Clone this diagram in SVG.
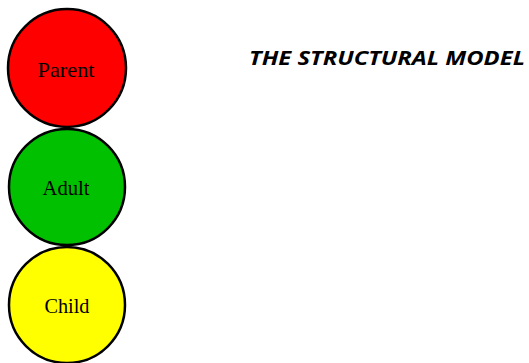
<svg xmlns="http://www.w3.org/2000/svg" width="529" height="363" viewBox="0 0 529 363">
<style>
.c{stroke:#000;stroke-width:2.5}
.t{font-family:"Liberation Serif","Times New Roman",serif;font-size:21px;fill:#000;text-anchor:middle}
.h{font-family:"Open Sans","Liberation Sans",sans-serif;font-size:20px;font-weight:bold;font-style:italic;fill:#000}
</style>
<rect width="529" height="363" fill="#fff"/>
<g id="parent"><circle class="c" cx="67" cy="68" r="59" fill="#ff0000"/><text class="t" x="66" y="77" textLength="57" lengthAdjust="spacingAndGlyphs">Parent</text></g>
<g id="adult"><circle class="c" cx="67" cy="187" r="58" fill="#00c000"/><text class="t" x="66" y="195" textLength="47" lengthAdjust="spacingAndGlyphs">Adult</text></g>
<g id="child"><circle class="c" cx="67" cy="305" r="58" fill="#ffff00"/><text class="t" x="67" y="313" textLength="45" lengthAdjust="spacingAndGlyphs">Child</text></g>
<g id="connectors"/>
<g id="title"><text class="h" x="249" y="65" textLength="276" lengthAdjust="spacingAndGlyphs">THE STRUCTURAL MODEL</text></g>
</svg>
